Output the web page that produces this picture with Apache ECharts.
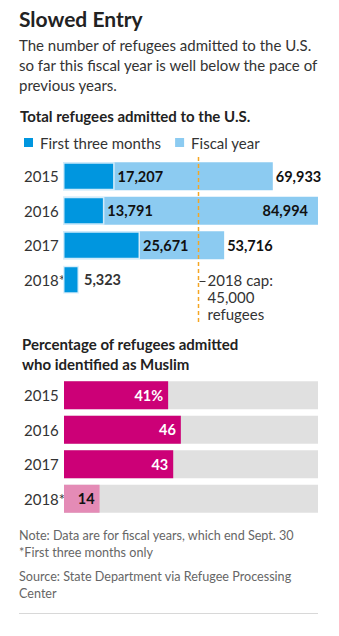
<!DOCTYPE html>
<html><head><meta charset="utf-8">
<script src="https://cdn.jsdelivr.net/npm/echarts@6/dist/echarts.min.js"></script>
<style>html,body{margin:0;padding:0;background:#fff}#c{width:339px;height:636px}</style>
</head><body><div id="c"></div>
<script>
const years = ['2015', '2016', '2017', '2018*'];
const firstThreeMonths = [17207, 13791, 25671, 5323];
const fiscalYear = [69933, 84994, 53716, null];
const muslimPct = [41, 46, 43, 14];
const capValue = 45000;
const capLines = ['2018 cap:', '45,000', 'refugees'];

const FONT = 'Lato, "Noto Sans", sans-serif';
const fmt = v => Number(v).toLocaleString('en-US');
const DARK = '#0096df', LIGHT = '#8ccbf1', MAG = '#cc0077', PINK = '#e48bb6', GREY = '#e0e0e0';

const chart = echarts.init(document.getElementById('c'), null, {renderer: 'svg'});

function txt(id, x, y, text, size, weight, color) {
  return {type: 'text', id, left: x, top: y, style: {text, font: `${weight} ${size}px ${FONT}`, fill: color}};
}

const option = {
  animation: false,
  textStyle: {fontFamily: FONT},
  legend: {
    left: 19, top: 130, itemWidth: 9, itemHeight: 9, itemGap: 14,
    icon: 'rect',
    data: ['First three months', 'Fiscal year'],
    textStyle: {fontSize: 15, color: '#333', fontFamily: FONT, padding: [0, 0, 0, 2]},
    itemStyle: {borderWidth: 0}
  },
  grid: [
    {left: 63, right: 21, top: 159, height: 138},
    {left: 64, right: 21, top: 378, height: 138}
  ],
  xAxis: [
    {gridIndex: 0, type: 'value', min: 0, max: 85000, show: false},
    {gridIndex: 1, type: 'value', min: 0, max: 100, show: false}
  ],
  yAxis: [
    {gridIndex: 0, type: 'category', data: years, inverse: true,
     axisLine: {show: false}, axisTick: {show: false}, splitLine: {show: false},
     axisLabel: {align: 'left', margin: 39, fontSize: 15, color: '#333', fontFamily: FONT}},
    {gridIndex: 1, type: 'category', data: years, inverse: true,
     axisLine: {show: false}, axisTick: {show: false}, splitLine: {show: false},
     axisLabel: {align: 'left', margin: 40, fontSize: 15, color: '#333', fontFamily: FONT}}
  ],
  series: [
    {
      name: 'Fiscal year', type: 'bar', xAxisIndex: 0, yAxisIndex: 0, barWidth: 28, barGap: '-100%',
      itemStyle: {color: LIGHT},
      data: fiscalYear.map(v => v === null ? '-' : {
        value: v,
        label: v > 80000 ? {position: 'insideRight', distance: 10} : undefined
      }),
      label: {show: true, position: 'right', distance: 3, formatter: p => fmt(p.value),
              fontSize: 14.5, fontWeight: 'bold', color: '#111', fontFamily: FONT}
    },
    {
      name: 'First three months', type: 'bar', xAxisIndex: 0, yAxisIndex: 0, barWidth: 28, barGap: '-100%',
      itemStyle: {color: DARK, borderColor: 'rgba(225,242,252,0.9)', borderWidth: 1.5},
      data: firstThreeMonths.map((v, i) => ({
        value: v,
        label: fiscalYear[i] === null ? {color: '#333', distance: 5} : undefined
      })),
      label: {show: true, position: 'right', distance: 3, formatter: p => fmt(p.value),
              fontSize: 14.5, fontWeight: 'bold', color: '#111', fontFamily: FONT}
    },
    {
      name: 'Muslim', type: 'bar', xAxisIndex: 1, yAxisIndex: 1, barWidth: 28,
      showBackground: true, backgroundStyle: {color: GREY},
      data: muslimPct.map((v, i) => ({
        value: v,
        itemStyle: {color: i === muslimPct.length - 1 ? PINK : MAG},
        label: i === muslimPct.length - 1 ? {color: '#111'} : undefined
      })),
      label: {show: true, position: 'insideRight', distance: 5,
              formatter: p => p.dataIndex === 0 ? p.value + '%' : String(p.value),
              fontSize: 14.5, fontWeight: 'bold', color: '#fff', fontFamily: FONT}
    }
  ],
  graphic: [
    txt('t0', 19, 8, 'Slowed Entry', 21, 'bold', '#222'),
    txt('s1', 19, 37, 'The number of refugees admitted to the U.S.', 15, 'normal', '#333'),
    txt('s2', 19, 57, 'so far this fiscal year is well below the pace of', 15, 'normal', '#333'),
    txt('s3', 19, 77, 'previous years.', 15, 'normal', '#333'),
    txt('h1', 20, 108, 'Total refugees admitted to the U.S.', 15, 'bold', '#222'),
    txt('h2', 22, 336, 'Percentage of refugees admitted', 15, 'bold', '#222'),
    txt('h3', 22, 356, 'who identified as Muslim', 15, 'bold', '#222'),
    txt('n1', 19, 529, 'Note: Data are for fiscal years, which end Sept. 30', 12.6, 'normal', '#666'),
    txt('n2', 19, 546, '*First three months only', 12.6, 'normal', '#666'),
    txt('n3', 19, 570, 'Source: State Department via Refugee Processing', 12.6, 'normal', '#666'),
    txt('n4', 19, 587, 'Center', 12.6, 'normal', '#666'),
    {type: 'line', id: 'rule', shape: {x1: 19, y1: 613.5, x2: 318, y2: 613.5}, style: {stroke: '#d8d8d8', lineWidth: 1}}
  ]
};
chart.setOption(option);

const capX = Math.round(chart.convertToPixel({xAxisIndex: 0}, capValue)) + 0.5;
const capEls = [
  {type: 'line', id: 'capLine', z: 10, shape: {x1: capX, y1: 157, x2: capX, y2: 323},
   style: {stroke: '#f5a623', lineWidth: 1.5, lineDash: [4, 3]}},
  {type: 'line', id: 'capTick', z: 10, shape: {x1: capX + 1, y1: 281.5, x2: capX + 7, y2: 281.5},
   style: {stroke: '#333', lineWidth: 1}}
];
capLines.forEach((t, i) => capEls.push(txt('cap' + i, capX + 9, 272 + i * 17, t, 15, 'normal', '#333')));
chart.setOption({graphic: capEls});
</script></body></html>
